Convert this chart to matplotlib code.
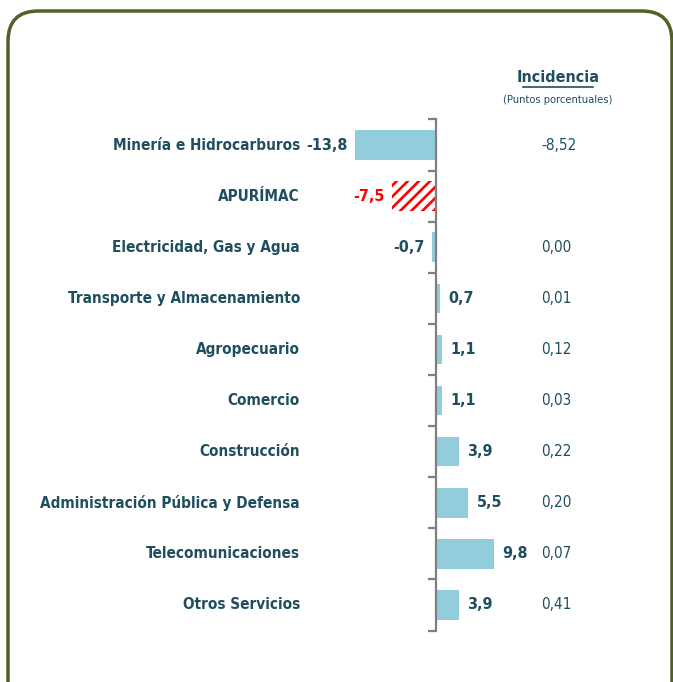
import matplotlib
matplotlib.use("Agg")
import matplotlib.pyplot as plt
from matplotlib.patches import FancyBboxPatch
import numpy as np

categories = ["Minería e Hidrocarburos", "APURÍMAC", "Electricidad, Gas y Agua",
              "Transporte y Almacenamiento", "Agropecuario", "Comercio",
              "Construcción", "Administración Pública y Defensa",
              "Telecomunicaciones", "Otros Servicios"]
values = [-13.8, -7.5, -0.7, 0.7, 1.1, 1.1, 3.9, 5.5, 9.8, 3.9]
incidence = ["-8,52", "", "0,00", "0,01", "0,12", "0,03", "0,22", "0,20", "0,07", "0,41"]
highlight = "APURÍMAC"

TEAL = "#1f4e5f"
BLUE = "#92cddc"
RED = "#ff0000"
FRAME = "#4f6228"

plt.rcParams['font.family'] = ['DejaVu Sans']
plt.rcParams['font.stretch'] = 'condensed'
plt.rcParams['hatch.linewidth'] = 1.9

W, H = 673, 682
fig = plt.figure(figsize=(W / 100, H / 100), dpi=100)

# frame
frame = FancyBboxPatch((8 / W, -40 / H), (672 - 8) / W, (H - 11 + 40) / H,
                       boxstyle="round,pad=0,rounding_size=0.045",
                       transform=fig.transFigure, fill=False, edgecolor=FRAME,
                       linewidth=2.5, mutation_aspect=W / H)
fig.patches.append(frame)

zero_px = 436
ppu = 5.87
xmin = -zero_px / ppu
xmax = (W - zero_px) / ppu
top_px, bot_px = 119.5, 630.5
ax = fig.add_axes([0, (H - bot_px) / H, 1, (bot_px - top_px) / H])
ax.set_xlim(xmin, xmax)
n = len(categories)
ax.set_ylim(n - 0.5, -0.5)
ax.patch.set_alpha(0)

for i, (c, v) in enumerate(zip(categories, values)):
    if c == highlight:
        ax.barh(i, v, height=0.58, color="white", edgecolor=RED, hatch="///", linewidth=0)
    else:
        ax.barh(i, v, height=0.58, color=BLUE, linewidth=0)

for s in ["top", "right", "bottom"]:
    ax.spines[s].set_visible(False)
ax.spines["left"].set_position(("data", 0))
ax.spines["left"].set_color("#7f7f7f")
ax.spines["left"].set_linewidth(1.6)
ax.set_yticks(np.arange(-0.5, n, 1))
ax.set_yticklabels([])
ax.tick_params(axis="y", direction="out", length=6, width=1.6, color="#7f7f7f")
ax.set_xticks([])

label_x = (300 - zero_px) / ppu
inc_x = (541 - zero_px) / ppu
fs = 11
for i, (c, v, inc) in enumerate(zip(categories, values, incidence)):
    ax.text(label_x, i, c, ha="right", va="center", fontsize=fs, fontweight="bold", color=TEAL)
    col = RED if c == highlight else TEAL
    txt = f"{v:.1f}".replace(".", ",")
    if v < 0:
        ax.annotate(txt, (v, i), xytext=(-5, 0), textcoords="offset points",
                    ha="right", va="center", fontsize=11.5, fontweight="bold", color=col)
    else:
        ax.annotate(txt, (v, i), xytext=(6, 0), textcoords="offset points",
                    ha="left", va="center", fontsize=11.5, fontweight="bold", color=col)
    if inc:
        ax.text(inc_x, i, inc, ha="left", va="center", fontsize=fs, color=TEAL)

fig.text(558 / W, 1 - 78 / H, "Incidencia", ha="center", va="center", fontsize=11.5,
         fontweight="bold", color=TEAL)
fig.add_artist(plt.Line2D([523 / W, 593 / W], [1 - 87 / H, 1 - 87 / H], color=TEAL, linewidth=1.2))
fig.text(558 / W, 1 - 100 / H, "(Puntos porcentuales)", ha="center", va="center", fontsize=8,
         color=TEAL)

fig.savefig("out.png", dpi=100)
